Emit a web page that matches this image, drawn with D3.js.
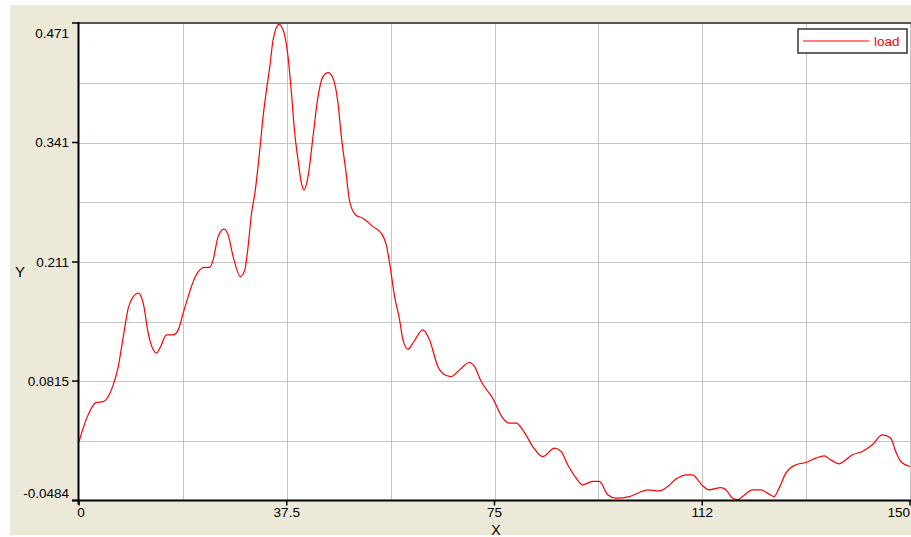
<!DOCTYPE html>
<html>
<head>
<meta charset="utf-8">
<script src="https://cdn.jsdelivr.net/npm/d3@7"></script>
<style>
  html, body { margin: 0; padding: 0; background: #ffffff; }
  svg { display: block; }
  text { font-family: "Liberation Sans", Arial, sans-serif; font-size: 13.5px; fill: #000; }
</style>
</head>
<body>
<svg id="chart" width="911" height="537"></svg>
<script>
// Series "load": X positions and Y values
const xValues = [0, 1.39, 3.06, 4.38, 6.18, 7.09, 7.99, 8.89, 9.79, 10.69, 11.59, 12.49, 13.40, 14.01, 14.60,
  15.81, 17.00, 17.90, 18.80, 19.71, 20.61, 21.82, 22.41, 23.62, 24.21, 25.11, 26.14, 26.92, 27.82, 29.15,
  29.93, 30.52, 31.14, 31.73, 32.63, 33.23, 33.84, 34.44, 35.03, 36.11, 36.96, 37.73, 38.35, 38.94, 39.54,
  40.15, 40.62, 41.34, 42.24, 43.14, 44.05, 44.95, 45.85, 46.75, 47.36, 48.14, 48.86, 49.94, 51.26, 53.06,
  54.57, 55.47, 56.07, 56.97, 57.87, 58.47, 59.37, 60.27, 62.07, 63.28, 64.78, 65.99, 67.19, 68.69, 70.49,
  71.39, 72.60, 74.69, 76.50, 77.70, 78.91, 80.10, 81.91, 83.71, 85.82, 87.03, 88.22, 89.73, 90.92, 92.72,
  93.93, 95.43, 96.94, 99.34, 101.14, 102.64, 104.75, 106.25, 107.76, 109.85, 110.75, 112.56, 113.76, 115.87,
  116.77, 117.96, 118.86, 119.77, 121.57, 123.08, 124.27, 125.48, 126.38, 127.59, 129.39, 131.19, 132.99,
  134.49, 135.70, 137.20, 138.41, 139.60, 141.40, 143.20, 145.01, 146.52, 147.42, 148.33, 150];
const yValues = [0.0157, 0.0412, 0.0581, 0.0592, 0.0774, 0.0973, 0.1299, 0.1608, 0.1734, 0.1771, 0.1662,
  0.1336, 0.1155, 0.1119, 0.1173, 0.1318, 0.1318, 0.1372, 0.1554, 0.1734, 0.1897, 0.2024, 0.2049, 0.2054,
  0.2133, 0.2386, 0.2467, 0.2405, 0.2169, 0.1952, 0.2024, 0.2278, 0.2641, 0.2850, 0.3329, 0.3691, 0.3982,
  0.4235, 0.4525, 0.4696, 0.4615, 0.4344, 0.3946, 0.3511, 0.3220, 0.2967, 0.2894, 0.3039, 0.3474, 0.3909,
  0.4126, 0.4170, 0.4109, 0.3837, 0.3474, 0.3112, 0.2767, 0.2622, 0.2586, 0.2495, 0.2423, 0.2296, 0.2097,
  0.1734, 0.1481, 0.1263, 0.1162, 0.1227, 0.1372, 0.1263, 0.0973, 0.0883, 0.0864, 0.0937, 0.1017, 0.0973,
  0.0810, 0.0629, 0.0412, 0.0357, 0.0357, 0.0285, 0.0103, -0.0006, 0.0086, 0.0049, -0.0096, -0.0240, -0.0313,
  -0.0277, -0.0277, -0.0422, -0.0458, -0.0441, -0.0397, -0.0368, -0.0379, -0.0332, -0.0251, -0.0205, -0.0205,
  -0.0324, -0.0368, -0.0343, -0.0368, -0.0458, -0.0476, -0.0441, -0.0368, -0.0368, -0.0404, -0.0441, -0.0349,
  -0.0186, -0.0096, -0.0071, -0.0023, 0.0002, -0.0042, -0.0085, -0.0042, 0.0013, 0.0049, 0.0122, 0.0230,
  0.0194, 0.0049, -0.0060, -0.0114];

// Axis ticks and labels
const xTicks = [0, 37.5, 75, 112.5, 150];
const xTickLabels = ["0", "37.5", "75", "112", "150"];
const xGrid = [0, 18.75, 37.5, 56.25, 75, 93.75, 112.5, 131.25, 150];
const yTicks = [-0.0484, 0.0815, 0.211, 0.341, 0.471];
const yTickLabels = ["-0.0484", "0.0815", "0.211", "0.341", "0.471"];
const yGrid = [-0.0484, 0.01655, 0.0815, 0.14625, 0.211, 0.276, 0.341, 0.406, 0.471];
const seriesName = "load";

const svg = d3.select("#chart");
const W = 911, H = 537;
const plot = { left: 79, top: 23, right: 911, bottom: 500.5 };

// Panel background
svg.append("rect").attr("x", 10).attr("y", 5).attr("width", W - 10).attr("height", 530)
  .attr("fill", "#ECE9D8");
svg.append("rect").attr("x", plot.left).attr("y", plot.top)
  .attr("width", plot.right - plot.left).attr("height", plot.bottom - plot.top)
  .attr("fill", "#ffffff");

const x = d3.scaleLinear().domain([0, 150]).range([plot.left, plot.right - 1]);
const y = d3.scaleLinear().domain([-0.0484, 0.471]).range([plot.bottom, plot.top]);

// Grid
const grid = svg.append("g").attr("stroke", "#c4c4c4").attr("stroke-width", 1);
grid.selectAll("line.v").data(xGrid.slice(1)).join("line").attr("class", "v")
  .attr("x1", d => Math.round(x(d)) + 0.5).attr("x2", d => Math.round(x(d)) + 0.5)
  .attr("y1", plot.top).attr("y2", plot.bottom);
grid.selectAll("line.h").data(yGrid.slice(1, -1)).join("line").attr("class", "h")
  .attr("y1", d => Math.round(y(d)) + 0.5).attr("y2", d => Math.round(y(d)) + 0.5)
  .attr("x1", plot.left).attr("x2", plot.right);

// Top border
svg.append("line").attr("x1", plot.left).attr("x2", plot.right)
  .attr("y1", plot.top).attr("y2", plot.top)
  .attr("stroke", "#555").attr("stroke-width", 2);

// Series line
const line = d3.line()
  .x((d, i) => x(xValues[i]))
  .y(d => y(d))
  .curve(d3.curveMonotoneX);
svg.append("path").datum(yValues)
  .attr("fill", "none").attr("stroke", "#ff0000").attr("stroke-width", 1.2)
  .attr("d", line);

// Axes
const yAxis = svg.append("g");
yAxis.append("line").attr("x1", plot.left - 0.5).attr("x2", plot.left - 0.5)
  .attr("y1", plot.top - 1).attr("y2", plot.bottom + 4)
  .attr("stroke", "#000").attr("stroke-width", 2);
yAxis.selectAll("line.tick").data(yTicks).join("line").attr("class", "tick")
  .attr("x1", plot.left - 7).attr("x2", plot.left)
  .attr("y1", d => y(d)).attr("y2", d => y(d))
  .attr("stroke", "#000").attr("stroke-width", 1.5);
yAxis.selectAll("text").data(yTicks).join("text")
  .attr("x", plot.left - 10)
  .attr("y", (d, i) => y(d) + (i === yTicks.length - 1 ? 10 : (i === 0 ? -7 : 0)))
  .attr("dy", "0.35em")
  .attr("text-anchor", "end")
  .text((d, i) => yTickLabels[i]);

const xAxis = svg.append("g");
xAxis.append("line").attr("x1", plot.left - 7).attr("x2", plot.right)
  .attr("y1", plot.bottom).attr("y2", plot.bottom)
  .attr("stroke", "#000").attr("stroke-width", 2);
xAxis.selectAll("line.tick").data(xTicks).join("line").attr("class", "tick")
  .attr("x1", d => x(d)).attr("x2", d => x(d))
  .attr("y1", plot.bottom).attr("y2", plot.bottom + 5)
  .attr("stroke", "#000").attr("stroke-width", 1.5);
xAxis.selectAll("text").data(xTicks).join("text")
  .attr("x", d => x(d))
  .attr("y", plot.bottom + 12)
  .attr("dy", "0.35em")
  .attr("text-anchor", (d, i) => i === xTicks.length - 1 ? "end" : "middle")
  .attr("dx", (d, i) => i === 0 ? 2 : 0)
  .text((d, i) => xTickLabels[i]);

// Axis titles
svg.append("text").attr("x", (plot.left + plot.right) / 2 + 1).attr("y", 535)
  .attr("text-anchor", "middle").style("font-size", "14px").text("X");
svg.append("text").attr("x", 20).attr("y", 272)
  .attr("text-anchor", "middle").attr("dy", "0.35em").style("font-size", "15px").text("Y");

// Legend
const lg = svg.append("g");
lg.append("rect").attr("x", 798).attr("y", 29).attr("width", 109).attr("height", 24)
  .attr("fill", "#ffffff").attr("stroke", "#333").attr("stroke-width", 1.5);
lg.append("line").attr("x1", 803).attr("x2", 869).attr("y1", 41).attr("y2", 41)
  .attr("stroke", "#ff0000").attr("stroke-width", 1.2);
lg.append("text").attr("x", 874).attr("y", 41).attr("dy", "0.35em")
  .style("fill", "#ff0000").text(seriesName);
</script>
</body>
</html>
